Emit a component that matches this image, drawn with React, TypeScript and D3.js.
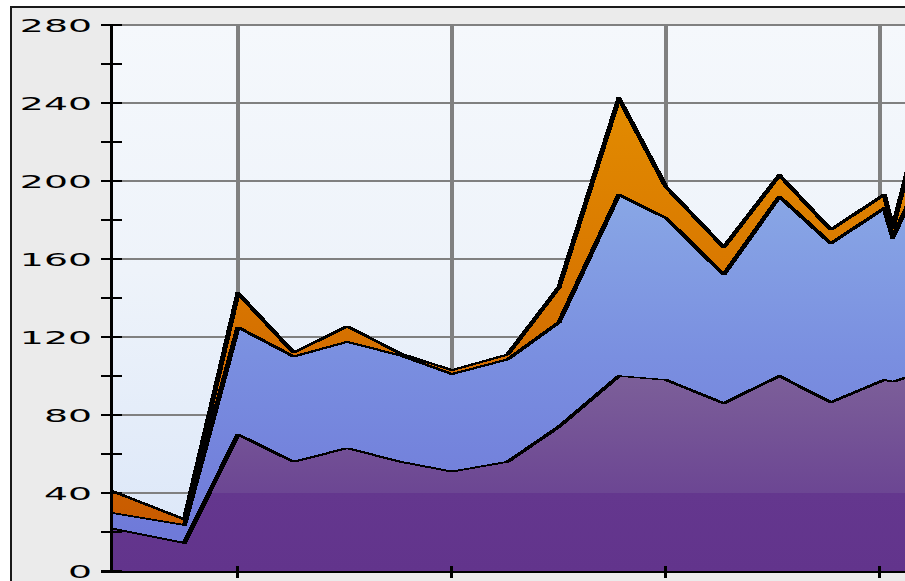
import * as d3 from 'd3';
import React from 'react';

// x positions in gridline units (gridlines sit at 1, 2, 3, 4)
const xs = [0.4, 0.75, 1.0, 1.26, 1.51, 1.76, 2.0, 2.26, 2.5, 2.78, 3.0, 3.27, 3.53, 3.77, 4.02, 4.06, 4.14];
const purple = [22, 14.4, 70, 56, 63, 56, 51, 56, 74, 100, 98, 86, 100, 86.5, 98, 97, 100];
const blue = [8, 9.2, 55, 54, 54.5, 54.5, 50, 52.5, 53.5, 93, 83, 66, 92, 81.5, 88, 74, 90];
const orange = [11.5, 2.9, 17.5, 2, 8, 1, 2, 2.5, 18, 49.5, 16, 14, 11, 7, 7, 5, 20];
const yTicks = [0, 40, 80, 120, 160, 200, 240, 280];
const yMinor = [20, 60, 100, 140, 180, 220, 260];
const xTicks = [1, 2, 3, 4];
const keys = ['purple', 'blue', 'orange'];

const W = 905;
const H = 581;

export default function App() {
  // set the dimensions of the plot area
  const left = 110;
  const top = 25;
  const bottom = 571;
  const unit = 214;

  const x = d3.scaleLinear().domain([0.402, 4.2]).range([left, left + (4.2 - 0.402) * unit]);
  const y = d3.scaleLinear().domain([0, 280]).range([bottom, top]);

  const rows = xs.map((t, i) => ({ t, purple: purple[i], blue: blue[i], orange: orange[i] }));
  const series = d3.stack<any>().keys(keys)(rows);

  const area = d3
    .area<any>()
    .x(d => x(d.data.t))
    .y0(d => y(d[0]))
    .y1(d => y(d[1]));
  const topLine = d3
    .line<any>()
    .x(d => x(d.data.t))
    .y(d => y(d[1]));

  const fills: Record<string, string> = { purple: 'url(#gPurple)', blue: 'url(#gBlue)', orange: 'url(#gOrange)' };

  return (
    <svg width={W} height={H} style={{ position: 'absolute', left: 0, top: 0 }}>
      <defs>
        <linearGradient id="gBg" gradientUnits="userSpaceOnUse" x1="0" y1={top} x2="0" y2={bottom}>
          <stop offset="0" stopColor="#f5f8fc" />
          <stop offset="0.45" stopColor="#eef3fa" />
          <stop offset="1" stopColor="#dae6f8" />
        </linearGradient>
        <linearGradient id="gPurple" gradientUnits="userSpaceOnUse" x1="0" y1={y(100)} x2="0" y2={bottom}>
          <stop offset="0" stopColor="#7c5f99" />
          <stop offset="0.6" stopColor="#6c4693" />
          <stop offset="0.6" stopColor="#64378e" />
          <stop offset="1" stopColor="#62348c" />
        </linearGradient>
        <linearGradient id="gBlue" gradientUnits="userSpaceOnUse" x1="0" y1={y(200)} x2="0" y2={y(20)}>
          <stop offset="0" stopColor="#8aa9e6" />
          <stop offset="0.5" stopColor="#7a8fe0" />
          <stop offset="1" stopColor="#6f7ad9" />
        </linearGradient>
        <linearGradient id="gOrange" gradientUnits="userSpaceOnUse" x1="0" y1={y(240)} x2="0" y2={y(30)}>
          <stop offset="0" stopColor="#e28b00" />
          <stop offset="0.5" stopColor="#d77400" />
          <stop offset="1" stopColor="#c95c00" />
        </linearGradient>
        <clipPath id="plotClip">
          <rect x={left} y={top} width={W - left} height={bottom - top} />
        </clipPath>
      </defs>

      {/* outer frame */}
      <rect x={0} y={0} width={W} height={H} fill="#ffffff" />
      <rect x={11} y={7} width={W} height={H} fill="#ebebeb" stroke="#1a1a1a" strokeWidth={2} />

      {/* plot background */}
      <rect x={left} y={top} width={W - left} height={bottom - top} fill="url(#gBg)" />

      {/* gridlines */}
      <g shapeRendering="crispEdges">
        {yTicks.map(v => (
          <line key={'gy' + v} x1={left} x2={W} y1={y(v)} y2={y(v)} stroke="#808080" strokeWidth={2} />
        ))}
        {xTicks.map(v => (
          <line key={'gx' + v} x1={x(v)} x2={x(v)} y1={top} y2={bottom} stroke="#808080" strokeWidth={4} />
        ))}
      </g>

      {/* stacked areas, pixel look */}
      <g clipPath="url(#plotClip)" shapeRendering="crispEdges">
        {series.map(s => (
          <path key={s.key} d={area(s) as string} fill={fills[s.key]} />
        ))}
        {series.map(s =>
          [-2, -1, 0, 1, 2].map(o => (
            <path
              key={s.key + o}
              d={topLine(s) as string}
              transform={`translate(${o},0)`}
              fill="none"
              stroke="#000"
              strokeWidth={1.2}
            />
          ))
        )}
      </g>

      {/* axes */}
      <g shapeRendering="crispEdges">
        <line x1={111} x2={111} y1={top} y2={bottom + 2} stroke="#000" strokeWidth={3} />
        {yTicks.concat(yMinor).map(v => (
          <line key={'t' + v} x1={101} x2={122} y1={y(v)} y2={y(v)} stroke="#000" strokeWidth={2} />
        ))}
        <line x1={101} x2={W} y1={bottom + 1} y2={bottom + 1} stroke="#000" strokeWidth={2} />
        {xTicks.map(v => (
          <line key={'xt' + v} x1={x(v)} x2={x(v)} y1={566} y2={578} stroke="#000" strokeWidth={3} />
        ))}
      </g>
      {yTicks.map(v => (
        <text
          key={'l' + v}
          transform={`translate(92,${y(v) + 7}) scale(2.1,1)`}
          textAnchor="end"
          fontFamily="DejaVu Sans"
          fontSize={18}
          fill="#000"
        >
          {v}
        </text>
      ))}
    </svg>
  );
}
